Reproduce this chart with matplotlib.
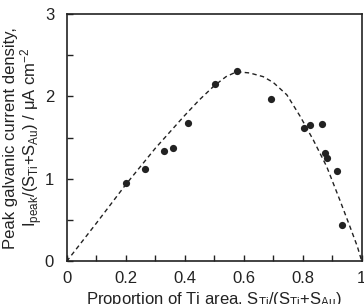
import matplotlib
matplotlib.use('Agg')
import matplotlib.pyplot as plt
from matplotlib.ticker import MultipleLocator

# measured points
ti_fraction = [0.201, 0.265, 0.331, 0.362, 0.411, 0.501, 0.577, 0.694,
               0.803, 0.826, 0.866, 0.876, 0.881, 0.917, 0.932]
peak_density = [0.95, 1.12, 1.34, 1.37, 1.68, 2.15, 2.31, 1.97,
                1.62, 1.655, 1.67, 1.31, 1.25, 1.10, 0.44]

# dashed guide curve
curve_x = [0.0, 0.1, 0.2, 0.3, 0.4, 0.45, 0.5, 0.54, 0.576, 0.62, 0.666,
           0.7, 0.746, 0.791, 0.836, 0.881, 0.926, 0.96, 0.985, 1.0]
curve_y = [0.0, 0.46, 0.93, 1.37, 1.77, 1.96, 2.13, 2.24, 2.30, 2.285, 2.24,
           2.17, 2.02, 1.76, 1.47, 1.15, 0.74, 0.42, 0.18, 0.0]

x_ticklabels = ['0', '0.2', '0.4', '0.6', '0.8', '1']

plt.rcParams['font.family'] = ['Liberation Sans', 'DejaVu Sans']
plt.rcParams['mathtext.fontset'] = 'custom'
plt.rcParams['mathtext.rm'] = 'Liberation Sans'
plt.rcParams['mathtext.it'] = 'Liberation Sans:italic'
plt.rcParams['mathtext.default'] = 'regular'

fig = plt.figure(figsize=(3.64, 3.04), dpi=100)
ax = fig.add_axes([0.183, 0.140, 0.811, 0.814])

ax.plot(curve_x, curve_y, color='#222222', lw=1.0, dashes=(3.2, 2.4))
ax.plot(ti_fraction, peak_density, 'o', color='#222222', ms=5.2, mec='none')

ax.set_xlim(0, 1)
ax.set_ylim(0, 3)
ax.set_xticks([0, 0.2, 0.4, 0.6, 0.8, 1.0])
ax.set_xticklabels(x_ticklabels)
ax.xaxis.set_minor_locator(MultipleLocator(0.1))
ax.yaxis.set_major_locator(MultipleLocator(1))
ax.yaxis.set_minor_locator(MultipleLocator(0.5))
ax.tick_params(which='both', direction='in', length=4, width=1.0,
               labelsize=12, color='#222222', labelcolor='#222222')
ax.tick_params(axis='x', pad=7)
ax.tick_params(axis='y', pad=9)
for s in ax.spines.values():
    s.set_linewidth(1.2)
    s.set_color('#222222')

ax.set_xlabel('Proportion of Ti area, S$_{Ti}$/(S$_{Ti}$+S$_{Au}$)',
              fontsize=12, color='#222222', labelpad=3)
ax.set_ylabel('Peak galvanic current density,\n'
              'I$_{peak}$/(S$_{Ti}$+S$_{Au}$) / μA cm$^{-2}$',
              fontsize=12, color='#222222', labelpad=0, linespacing=1.0)

fig.savefig('out.png', dpi=100)
